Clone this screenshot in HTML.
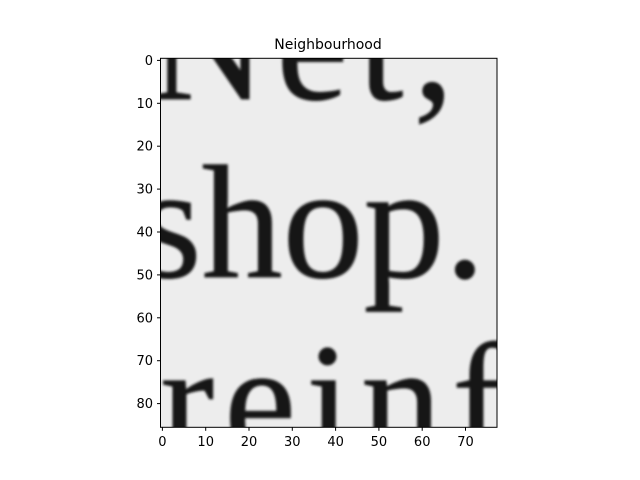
<!DOCTYPE html>
<html><head><meta charset="utf-8"><style>
html,body{margin:0;padding:0;background:#fff;}
svg{display:block;}
</style></head><body>
<svg id="chart" width="640" height="480" xmlns="http://www.w3.org/2000/svg">
<defs>
<clipPath id="ax"><rect x="160.5" y="58.3" width="336.5" height="369"/></clipPath>
<filter id="blur"><feGaussianBlur stdDeviation="1.2"/></filter>
</defs>
<text x="328" y="49" text-anchor="middle" font-family="DejaVu Sans, Liberation Sans, sans-serif" font-size="14" fill="#000">Neighbourhood</text>
<g clip-path="url(#ax)">
<rect x="160.5" y="58.3" width="336.5" height="369" fill="#ededed"/>
<g id="words" filter="url(#blur)" font-family="Liberation Serif, serif" fill="#151515" stroke="#151515" stroke-width="0.8"></g>
</g>
<rect x="160.5" y="58.3" width="336.5" height="369" fill="none" stroke="#000" stroke-width="1"/>
<g id="xt"></g><g id="yt"></g>
</svg>
<script>
const xTicks=[0,10,20,30,40,50,60,70];
const yTicks=[0,10,20,30,40,50,60,70,80];
const words=["Net,","shop.","reinf"];
const wordX=[-3,-5.5,-0.5];
const wordBaseline=[9,50.5,92];
const wordSpacing=[10,0,10];
const X=v=>162.4+v*4.33, Y=v=>60.4+v*4.29;
const NS="http://www.w3.org/2000/svg";
const wg=document.getElementById('words');
words.forEach((w,i)=>{
 const t=document.createElementNS(NS,'text');
 
 
 t.setAttribute('x',X(wordX[i]));t.setAttribute('y',Y(wordBaseline[i]));
 t.setAttribute('font-size','162');t.setAttribute('letter-spacing',wordSpacing[i]);
 t.textContent=w;wg.appendChild(t);
});
const xt=document.getElementById('xt'),yt=document.getElementById('yt');
xTicks.forEach(v=>{
 const l=document.createElementNS(NS,'line');
 
 
 l.setAttribute('x1',X(v));l.setAttribute('x2',X(v));l.setAttribute('y1',427.3);l.setAttribute('y2',430.8);l.setAttribute('stroke','#000');
 xt.appendChild(l);
 const t=document.createElementNS(NS,'text');
 
 
 t.setAttribute('x',X(v));t.setAttribute('y',446);t.setAttribute('text-anchor','middle');
 t.setAttribute('font-family','DejaVu Sans, Liberation Sans, sans-serif');t.setAttribute('font-size','13');
 t.textContent=v;xt.appendChild(t);
});
yTicks.forEach(v=>{
 const l=document.createElementNS(NS,'line');
 
 
 l.setAttribute('x1',157);l.setAttribute('x2',160.5);l.setAttribute('y1',Y(v));l.setAttribute('y2',Y(v));l.setAttribute('stroke','#000');
 yt.appendChild(l);
 const t=document.createElementNS(NS,'text');
 
 
 t.setAttribute('x',153);t.setAttribute('y',Y(v)+4.5);t.setAttribute('text-anchor','end');
 t.setAttribute('font-family','DejaVu Sans, Liberation Sans, sans-serif');t.setAttribute('font-size','13');
 t.textContent=v;yt.appendChild(t);
});
</script>
</body></html>
